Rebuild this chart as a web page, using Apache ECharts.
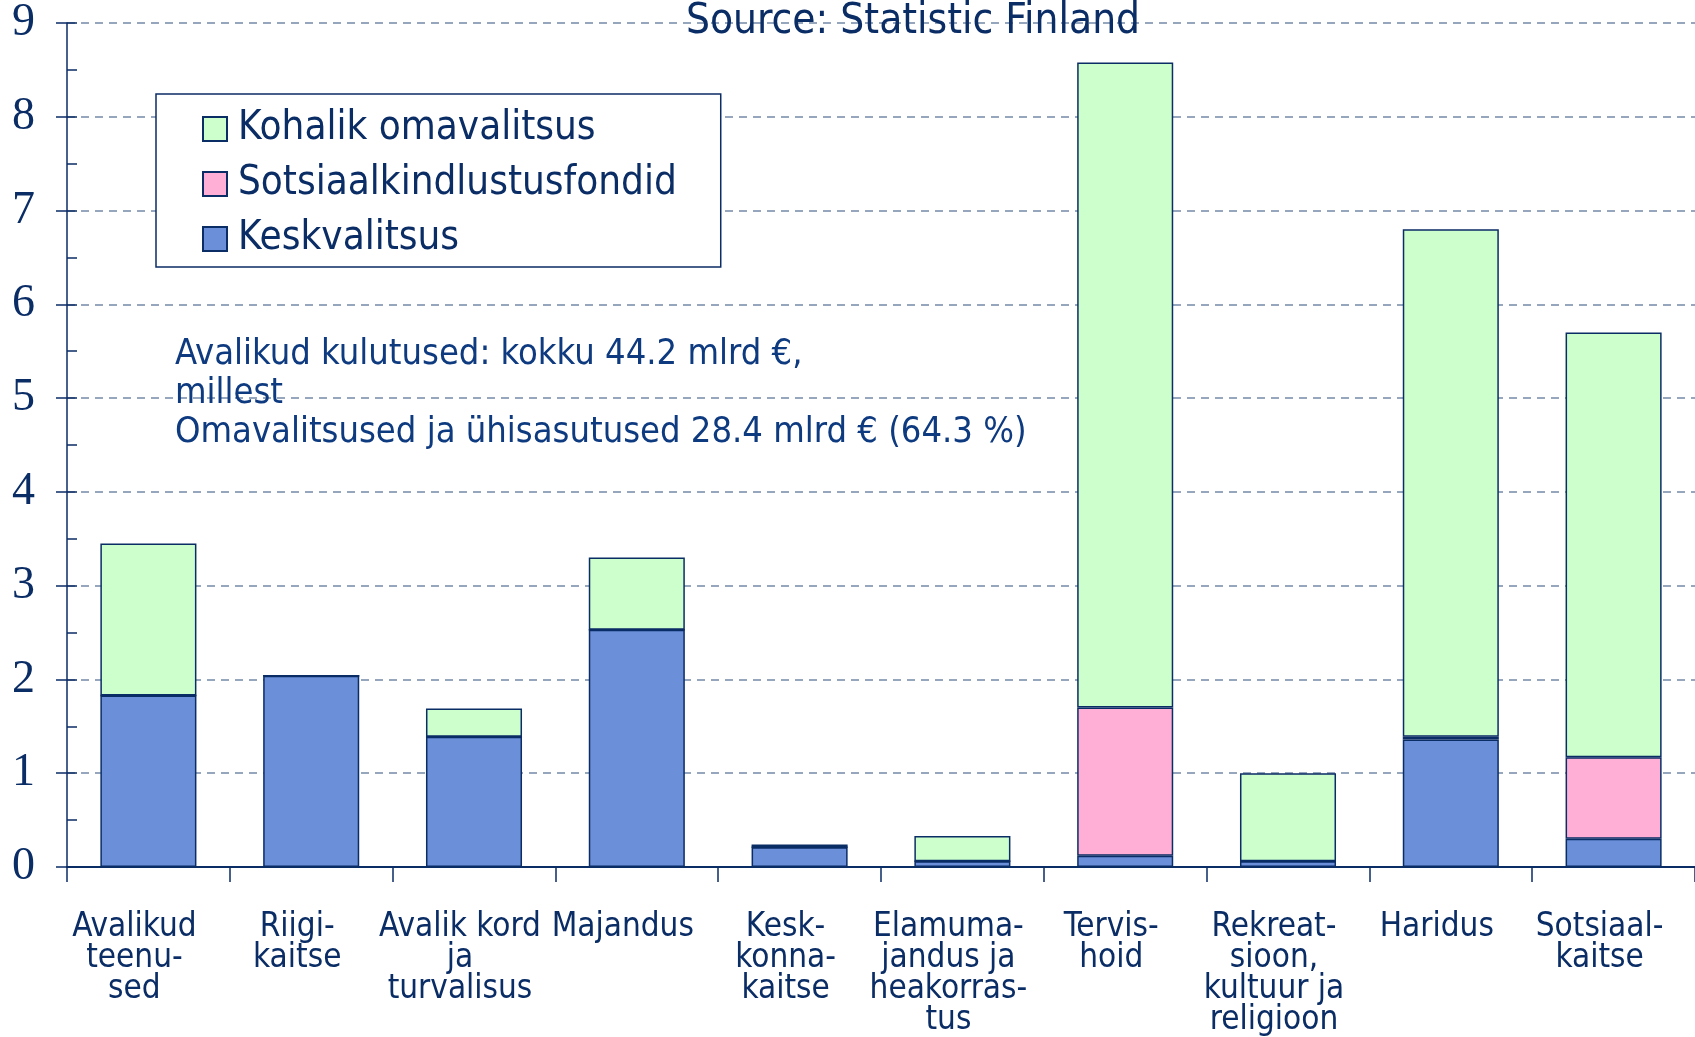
<!DOCTYPE html>
<html>
<head>
    <meta charset="utf-8">
    <title>Avalikud kulutused</title>
</head>
<body style="margin:0">

    <div id="main" style="width: 1695px; height: 1037px;"></div>
    <script src="https://cdn.jsdelivr.net/npm/echarts@6/dist/echarts.min.js"></script>
    <script type="text/javascript">
        // kategooriad ja väärtused (mlrd €)
        var categories = ['Avalikud\nteenu-\nsed', 'Riigi-\nkaitse', 'Avalik kord\nja\nturvalisus', 'Majandus',
            'Kesk-\nkonna-\nkaitse', 'Elamuma-\njandus ja\nheakorras-\ntus', 'Tervis-\nhoid',
            'Rekreat-\nsioon,\nkultuur ja\nreligioon', 'Haridus', 'Sotsiaal-\nkaitse'];
        var keskvalitsus = [1.83, 2.04, 1.39, 2.53, 0.21, 0.06, 0.12, 0.06, 1.36, 0.30];
        var sotsiaalfondid = [0, 0, 0, 0, 0, 0, 1.58, 0, 0.03, 0.87];
        var kohalik = [1.62, 0, 0.30, 0.77, 0.03, 0.27, 6.88, 0.94, 5.41, 4.53];
        var yTicks = [0, 1, 2, 3, 4, 5, 6, 7, 8, 9];

        var navy = '#0b2d66';
        var textFont = '"DejaVu Sans Condensed", "DejaVu Sans", sans-serif';

        var chartDom = document.getElementById('main');
        var myChart = echarts.init(chartDom);
        var option;

        function barSeries(name, data, color) {
            return {
                name: name,
                type: 'bar',
                stack: 'total',
                data: data,
                barCategoryGap: '41%',
                itemStyle: {
                    color: color,
                    borderColor: navy,
                    borderWidth: 1.5
                }
            };
        }

        option = {
            animation: false,
            textStyle: { fontFamily: textFont },
            title: [
                {
                    text: 'Source: Statistic Finland',
                    left: 908,
                    textAlign: 'center',
                    top: -4,
                    textStyle: { fontFamily: textFont, fontSize: 42, fontWeight: 'normal', color: navy }
                },
                {
                    text: 'Avalikud kulutused: kokku 44.2 mlrd €,\nmillest\nOmavalitsused ja ühisasutused 28.4 mlrd € (64.3 %)',
                    left: 170,
                    top: 330,
                    textStyle: { fontFamily: textFont, fontSize: 36, fontWeight: 'normal', color: '#0e3a80', lineHeight: 39 }
                }
            ],
            legend: {
                orient: 'vertical',
                left: 156,
                top: 94,
                data: ['Kohalik omavalitsus', 'Sotsiaalkindlustusfondid', 'Keskvalitsus'],
                itemWidth: 24,
                itemHeight: 24,
                itemGap: 15,
                icon: 'rect',
                padding: [15, 44, 8, 46],
                backgroundColor: '#fff',
                borderColor: navy,
                borderWidth: 1.5,
                borderRadius: 0,
                textStyle: { fontFamily: textFont, fontSize: 40, color: navy, padding: [0, 0, 0, 6] }
            },
            grid: {
                left: 67,
                right: 0,
                top: 22,
                bottom: 168
            },
            xAxis: [
                {
                    type: 'category',
                    data: categories,
                    axisLine: { lineStyle: { color: navy, width: 1.5 } },
                    axisTick: { show: true, length: 15, lineStyle: { color: navy, width: 1.5 } },
                    axisLabel: {
                        interval: 0,
                        margin: 45,
                        fontFamily: textFont,
                        fontSize: 33,
                        lineHeight: 31,
                        padding: [0, 28, 0, 0],
                        color: navy
                    }
                },
                {
                    type: 'category',
                    position: 'top',
                    data: categories,
                    axisLine: { show: true, lineStyle: { color: navy, width: 2 } },
                    axisTick: { show: false },
                    axisLabel: { show: false }
                }
            ],
            yAxis: [
                {
                    type: 'value',
                    min: yTicks[0],
                    max: yTicks[yTicks.length - 1],
                    interval: 1,
                    axisLine: { show: true, lineStyle: { color: navy, width: 1.5 } },
                    axisTick: { show: true, length: 11, lineStyle: { color: navy, width: 1.5 } },
                    axisLabel: {
                        margin: 32,
                        fontFamily: '"Liberation Serif", serif',
                        fontSize: 46,
                        color: navy
                    },
                    splitLine: {
                        show: true,
                        lineStyle: { color: '#7489a6', type: [8, 6], width: 1.5 }
                    }
                },
                {
                    type: 'value',
                    position: 'left',
                    min: 0,
                    max: 9,
                    interval: 0.5,
                    axisLine: { show: false },
                    axisTick: { show: true, inside: true, length: 10, lineStyle: { color: navy, width: 1.5 } },
                    axisLabel: { show: false },
                    splitLine: { show: false }
                }
            ],
            series: [
                barSeries('Keskvalitsus', keskvalitsus, '#6b8fd8'),
                barSeries('Sotsiaalkindlustusfondid', sotsiaalfondid, '#ffaed6'),
                barSeries('Kohalik omavalitsus', kohalik, '#ccffcc')
            ]
        };

        option && myChart.setOption(option);

    </script>
</body>
</html>
